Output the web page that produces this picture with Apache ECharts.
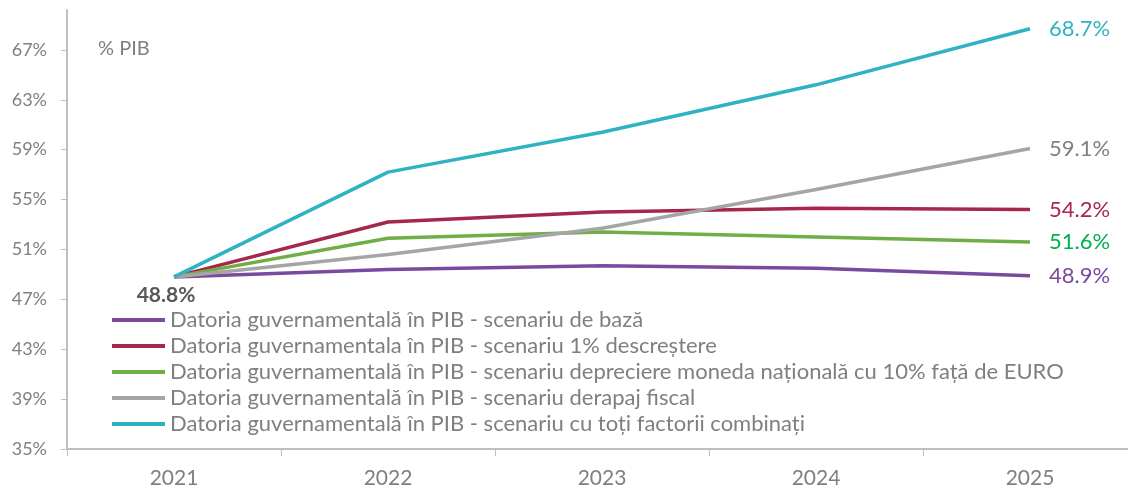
<!DOCTYPE html>
<html><head><meta charset="utf-8">
<script src="https://cdn.jsdelivr.net/npm/echarts@6/dist/echarts.min.js"></script>
<style>html,body{margin:0;padding:0;background:#fff;overflow:hidden;width:1128px;height:489px}#c{width:1150px;height:489px}</style>
</head><body><div id="c"></div>
<script>
const years = ['2021','2022','2023','2024','2025'];
const yTicks = [35,39,43,47,51,55,59,63,67];
const names = [
 'Datoria guvernamentală în PIB - scenariu de bază',
 'Datoria guvernamentala în PIB - scenariu 1% descreștere',
 'Datoria guvernamentală în PIB - scenariu depreciere moneda națională cu 10% față de EURO',
 'Datoria guvernamentală în PIB - scenariu derapaj fiscal',
 'Datoria guvernamentală în PIB - scenariu cu toți factorii combinați'
];
const baza = [48.8, 49.4, 49.7, 49.5, 48.9];
const descrestere = [48.8, 53.2, 54.0, 54.3, 54.2];
const depreciere = [48.8, 51.9, 52.4, 52.0, 51.6];
const derapaj = [48.8, 50.6, 52.7, 55.8, 59.1];
const combinati = [48.8, 57.2, 60.4, 64.2, 68.7];
const seriesData = [baza, descrestere, depreciere, derapaj, combinati];
const lineColors = ['#7B4A9E','#A5284A','#70AD47','#A5A5A5','#2FB3C2'];
const labelColors = ['#7B4A9E','#A5284A','#00B050','#808080','#2FB3BE'];

const chart = echarts.init(document.getElementById('c'));
const FONT = 'Lato, sans-serif';
chart.setOption({
  animation:false,
  textStyle:{fontFamily:FONT},
  grid:{left:67, right:13, top:10, bottom:39, containLabel:false},
  graphic:[{type:'text', left:98, top:39, style:{text:'% PIB', fill:'#7F7F7F', font:'20px '+FONT}}],
  legend:{
    orient:'vertical', left:112, top:309, padding:0, itemGap:4, itemWidth:53, itemHeight:4,
    icon:'rect',
    textStyle:{color:'#7F7F7F', fontSize:22, lineHeight:21, fontFamily:FONT},
    data:names
  },
  xAxis:{
    type:'category', data:years, boundaryGap:true,
    axisLine:{lineStyle:{color:'#BFBFBF', width:2}},
    axisTick:{show:true, length:7, lineStyle:{color:'#BFBFBF', width:1}},
    axisLabel:{color:'#7F7F7F', fontSize:21, margin:19, fontFamily:FONT}
  },
  yAxis:{
    type:'value', min:35, max:70.2, interval:4,
    splitLine:{show:false},
    axisLine:{show:true, lineStyle:{color:'#BFBFBF', width:2}},
    axisTick:{show:true, length:6, customValues:yTicks, lineStyle:{color:'#BFBFBF'}},
    axisLabel:{customValues:yTicks, formatter:v=>v+'%', color:'#7F7F7F', fontSize:18, margin:20, fontFamily:FONT}
  },
  series: seriesData.map((d,i)=>({
    name:names[i], type:'line', data: d.map((v,j)=>{
      const o={value:v};
      if(i===0 && j===0){
        o.label={show:true, position:'bottom', distance:8, offset:[-8,0], formatter:p=>p.value.toFixed(1)+'%', color:'#595959', fontWeight:'bold', fontSize:21, fontFamily:FONT};
      }
      return o;
    }),
    showSymbol:true, symbol:'circle', symbolSize:0,
    lineStyle:{color:lineColors[i], width:3.5},
    itemStyle:{color:lineColors[i]},
    endLabel:{show:true, formatter:p=>p.value.toFixed(1)+'%', color:labelColors[i], fontSize:22, distance:19, fontFamily:FONT}
  }))
});
</script></body></html>
